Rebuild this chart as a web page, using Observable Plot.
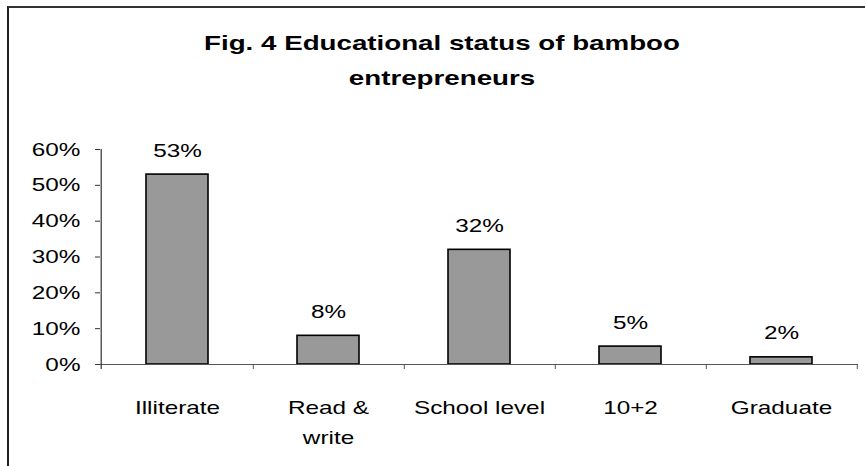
<!DOCTYPE html>
<html>
<head>
<meta charset="utf-8">
<script src="https://cdn.jsdelivr.net/npm/d3@7"></script>
<script src="https://cdn.jsdelivr.net/npm/@observablehq/plot@0.6"></script>
<style>
  html, body { margin: 0; padding: 0; background: #fff; }
  #wrap { position: relative; width: 865px; height: 466px; overflow: hidden; background: #fff; font-family: "Liberation Sans", Arial, sans-serif; }
  #frame { position: absolute; left: 7px; top: 6px; width: 900px; height: 500px; border-left: 2px solid #222; border-top: 2px solid #333; box-sizing: border-box; }
  #title { position: absolute; left: 0; top: 25px; width: 884px; text-align: center; font-weight: bold; font-size: 21px; line-height: 35px; color: #000; transform: scaleX(1.32); transform-origin: 442px 0; }
  #chart { position: absolute; left: 0; top: 0; }
</style>
</head>
<body>
<div id="wrap">
  <div id="frame"></div>
  <div id="chart"></div>
  <div id="title">Fig. 4 Educational status of bamboo<br>entrepreneurs</div>
</div>
<script>
const categories = ["Illiterate", "Read &\nwrite", "School level", "10+2", "Graduate"];
const values = [0.53, 0.08, 0.32, 0.05, 0.02];
const valueLabels = ["53%", "8%", "32%", "5%", "2%"];
const yTicks = [0, 0.1, 0.2, 0.3, 0.4, 0.5, 0.6];

const data = categories.map((c, i) => ({cat: c, value: values[i], label: valueLabels[i]}));

const W = 865, H = 466;
const mL = 100, mR = 7, mT = 149, mB = 102;
const padInner = 0.59, padOuter = padInner / 2;
const step = (W - mL - mR) / categories.length;
const FS = 19;
const S = 1.28;

const chart = Plot.plot({
  width: W,
  height: H,
  marginLeft: mL,
  marginRight: mR,
  marginTop: mT,
  marginBottom: mB,
  style: {fontFamily: '"Liberation Sans", Arial, sans-serif', fontSize: FS + "px", color: "#000", background: "transparent"},
  x: {domain: categories, paddingInner: padInner, paddingOuter: padOuter, axis: null},
  y: {domain: [0, 0.6], axis: null},
  marks: [
    Plot.barY(data, {x: "cat", y: "value", fill: "#999999", stroke: "#000", strokeWidth: 1.6}),
    Plot.ruleY([0], {stroke: "#555", strokeWidth: 1}),
    Plot.ruleX([categories[0]], {x: d => d, dx: -step / 2 - 0.5, y1: 0, y2: 0.6, stroke: "#333", strokeWidth: 1.2}),
    Plot.ruleX([categories[0]], {x: d => d, dx: -step / 2 - 0.5, y1: 0, y2: 0, insetBottom: -5, stroke: "#333", strokeWidth: 1.2}),
    Plot.ruleX(categories, {x: d => d, dx: step / 2, y1: 0, y2: 0, insetBottom: -5, stroke: "#555", strokeWidth: 1}),
    Plot.axisY({ticks: yTicks, tickFormat: d3.format(".0%"), tickSize: 5, tickPadding: 15, fontSize: FS, stroke: "#333", label: null}),
    Plot.axisX({tickSize: 0, tickPadding: 28, fontSize: FS, lineHeight: 30 / FS, label: null}),
    Plot.text(data, {x: "cat", y: "value", text: "label", dy: -18, lineAnchor: "bottom", fontSize: FS})
  ]
});

chart.querySelectorAll("text").forEach(t => {
  const x = +t.getAttribute("x") || 0;
  const tr = t.getAttribute("transform") || "";
  t.setAttribute("transform", `${tr} translate(${x},0) scale(${S},1) translate(${-x},0)`);
});

document.getElementById("chart").appendChild(chart);
</script>
</body>
</html>
